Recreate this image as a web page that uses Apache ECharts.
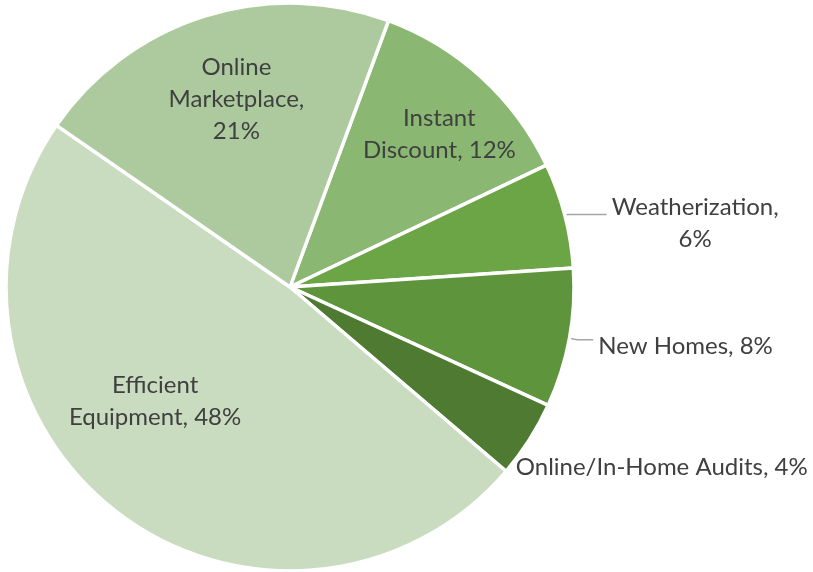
<!DOCTYPE html>
<html>
<head>
<meta charset="utf-8">
<script src="https://cdn.jsdelivr.net/npm/echarts@6/dist/echarts.min.js"></script>
<style>
	html, body { margin: 0; padding: 0; background: #fff; }
	#chart { width: 813px; height: 572px; }
</style>
</head>
<body>
<div id="chart"></div>
<script>
// slices, clockwise from the top boundary
const categories = ['Instant Discount', 'Weatherization', 'New Homes', 'Online/In-Home Audits', 'Efficient Equipment', 'Online Marketplace']
const shares = [12.3, 6.0, 7.9, 4.4, 48.4, 21.0]
const labelText = ['Instant\nDiscount, ', 'Weatherization,\n', 'New Homes, ', 'Online/In-Home Audits, ', 'Efficient\nEquipment, ', 'Online\nMarketplace,\n']

const colors = ['#8AB872', '#6BA545', '#5E953C', '#4E7A32', '#C9DCC0', '#ACCA9D']
const FONT = 'Lato'
const FONT_SIZE = 24
const LINE_H = 32
const textColor = '#404040'

// label placement per slice (padding nudges the text away from the default anchor)
const labelCfg = [
	{ position: 'inside', padding: [0, 0, 91, 103] },
	{ position: 'outside', padding: [17, 0, 0, 0], line: [3, 39] },
	{ position: 'outside', padding: [14, 0, 0, 0], line: [8, 16] },
	{ position: 'inside', padding: [204, 0, 0, 499] },
	{ position: 'inside', padding: [0, 93, 2, 0] },
	{ position: 'inside', padding: [0, 20, 98, 0] }
]

const fmt = (p) => {
	const txt = labelText[p.dataIndex] + Math.round(p.percent) + '%'
	return txt.split('\n').map(s => '{t|' + s + '}').join('\n')
}

const data = categories.map((name, i) => {
	const cfg = labelCfg[i]
	const item = {
		name: name,
		value: shares[i],
		itemStyle: { color: colors[i] },
		label: {
			position: cfg.position,
			padding: cfg.padding
		},
		labelLine: { show: false }
	}
	if (cfg.line) {
		item.labelLine = {
			show: true,
			length: cfg.line[0],
			length2: cfg.line[1],
			lineStyle: { color: '#A6A6A6', width: 1.5 }
		}
	}
	return item
})

const chart = echarts.init(document.getElementById('chart'))

chart.setOption({
	animation: false,
	backgroundColor: '#fff',
	series: [
		{
			type: 'pie',
			center: [290, 287],
			radius: 284,
			startAngle: 69.7,
			clockwise: true,
			avoidLabelOverlap: false,
			labelLayout: { hideOverlap: false },
			itemStyle: {
				borderColor: '#fff',
				borderWidth: 3.5
			},
			label: {
				show: true,
				distanceToLabelLine: 5,
				formatter: fmt,
				rich: {
					t: {
						align: 'center',
						fontFamily: FONT,
						fontSize: FONT_SIZE,
						lineHeight: LINE_H,
						color: textColor
					}
				}
			},
			emphasis: { disabled: true },
			data: data
		}
	]
})
</script>
</body>
</html>
